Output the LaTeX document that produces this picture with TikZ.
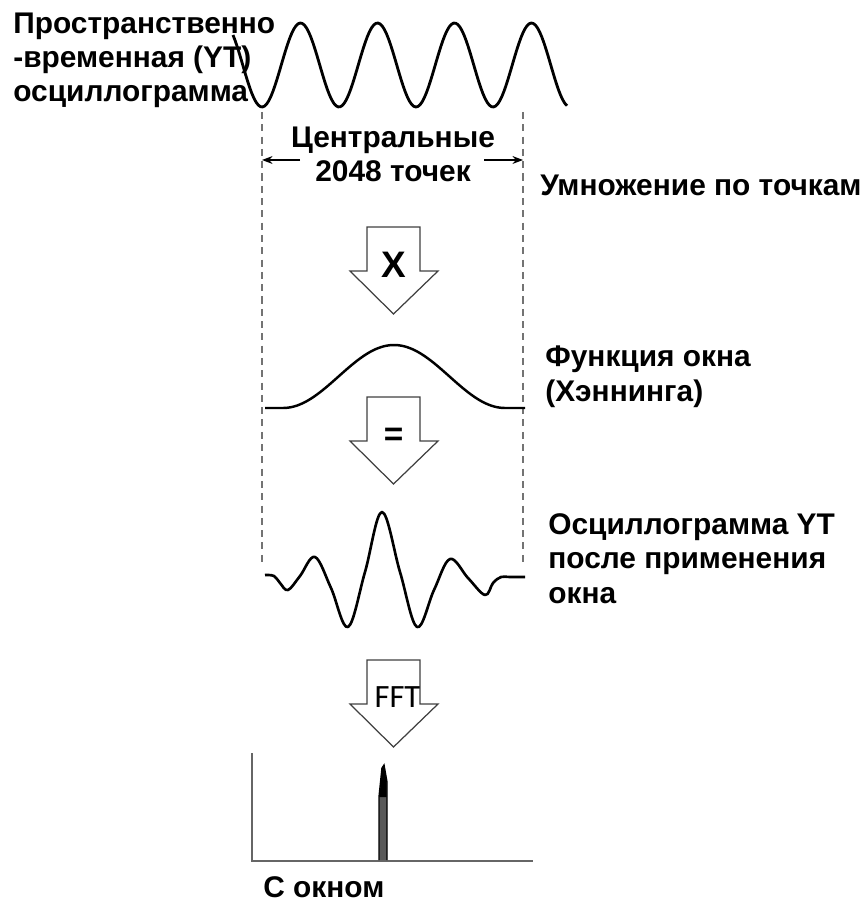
\documentclass[tikz,border=0pt]{standalone}
\usepackage{fontspec}
\setmainfont{Liberation Sans}
\newfontfamily\fftfont{Carlito}
\usetikzlibrary{arrows.meta}

\tikzset{
  wave/.style={line width=1.6pt, line join=round},
  guide/.style={black!55, line width=0.6pt, dash pattern=on 4pt off 3pt},
  dimarrow/.style={-{Stealth[length=6pt,width=4.5pt]}, line width=0.8pt},
  blockarrow/.style={draw=black!75, fill=white, line width=0.7pt},
  caption/.style={font=\bfseries\fontsize{17}{19.4}\selectfont, align=left, inner sep=0pt},
  axisline/.style={black!60, line width=1pt}
}

\begin{document}
\begin{tikzpicture}[x=0.02cm, y=-0.02cm]
	\useasboundingbox (0,0) rectangle (865,902);
	% labels (base = last line)
	\node[caption, anchor=base west] (yt) at (13,102) {Пространственно\\-временная (YT)\\осциллограмма};
	\node[caption, anchor=base, align=center] (centre) at (393,182) {Центральные\\2048 точек};
	\node[caption, anchor=base west] (mult) at (540,195) {Умножение по точкам};
	\node[caption, anchor=base west] (hann) at (545,401) {Функция окна\\(Хэннинга)};
	\node[caption, anchor=base west] (windowed) at (548,603) {Осциллограмма YT\\после применения\\окна};
	\node[caption, anchor=base west] (withwin) at (263,897) {С окном};
	% input YT wave
	\draw[wave] plot[domain=233:567, samples=160] (\x, {65-42*cos(4.6753*(\x-223.5))});
	% guides for the central 2048 points
	\coordinate (gl1) at (262,112); \coordinate (gl2) at (262,565);
	\coordinate (gr1) at (523,112); \coordinate (gr2) at (523,565);
	\draw[guide] (gl1) -- (gl2);
	\draw[guide] (gr1) -- (gr2);
	\coordinate (al) at (300,160); \coordinate (ar) at (484,160);
	\draw[dimarrow] (al) -- (al -| gl1);
	\draw[dimarrow] (ar) -- (ar -| gr1);
	% block arrows
	\foreach \ytop/\name in {227/ax, 397/aeq, 660/afft}{
		\draw[blockarrow] (367,\ytop) -- (420,\ytop) -- (420,\ytop+44) -- (438,\ytop+44)
			-- (393.5,\ytop+87) -- (350,\ytop+44) -- (367,\ytop+44) -- cycle;
		\coordinate (\name) at (393.5,\ytop);
	}
	\node[caption, font=\bfseries\fontsize{21}{24}\selectfont] (xsign) at ([yshift=-38*0.02cm]ax) {X};
	\node[caption, font=\bfseries\fontsize{19}{22}\selectfont] (eqsign) at ([yshift=-40*0.02cm]aeq) {=};
	\node[font=\fftfont\fontsize{18.5}{20}\selectfont, inner sep=0pt] (fft) at ([xshift=4*0.02cm, yshift=-37*0.02cm]afft) {FFT};
	% Hanning window
	\draw[wave, line width=1.4pt] (265,408) -- (283,408)
		-- plot[domain=283:505, samples=80] (\x, {408-63*(0.5-0.5*cos(1.6216*(\x-283)))})
		-- (525,408);
	% windowed YT wave
	\draw[wave, line width=1.5pt] plot[smooth, tension=0.6] coordinates {
		(265,575) (274,576) (280,583) (288,590) (300,576) (315,557) (331,588) (348,627)
		(365,572) (382,512) (400,572) (417,627) (434,590) (450,559) (468,578) (485,595)
		(493,583) (501,577) (510,577) (525,577)};
	% spectrum
	\coordinate (o) at (252,861);
	\coordinate (ytop) at (252,753);
	\coordinate (xend) at (533,861);
	\draw[axisline] (ytop) -- (o) -- (xend);
	\filldraw[fill=black!65, draw=black, line width=0.8pt] (379,860) -- (379,797) -- (382,768) -- (384,765) -- (387,782) -- (387,860);
	\fill (379.5,797) -- (382,768) -- (384,765) -- (386.5,782) -- (386.5,797) -- cycle;
\end{tikzpicture}
\end{document}
